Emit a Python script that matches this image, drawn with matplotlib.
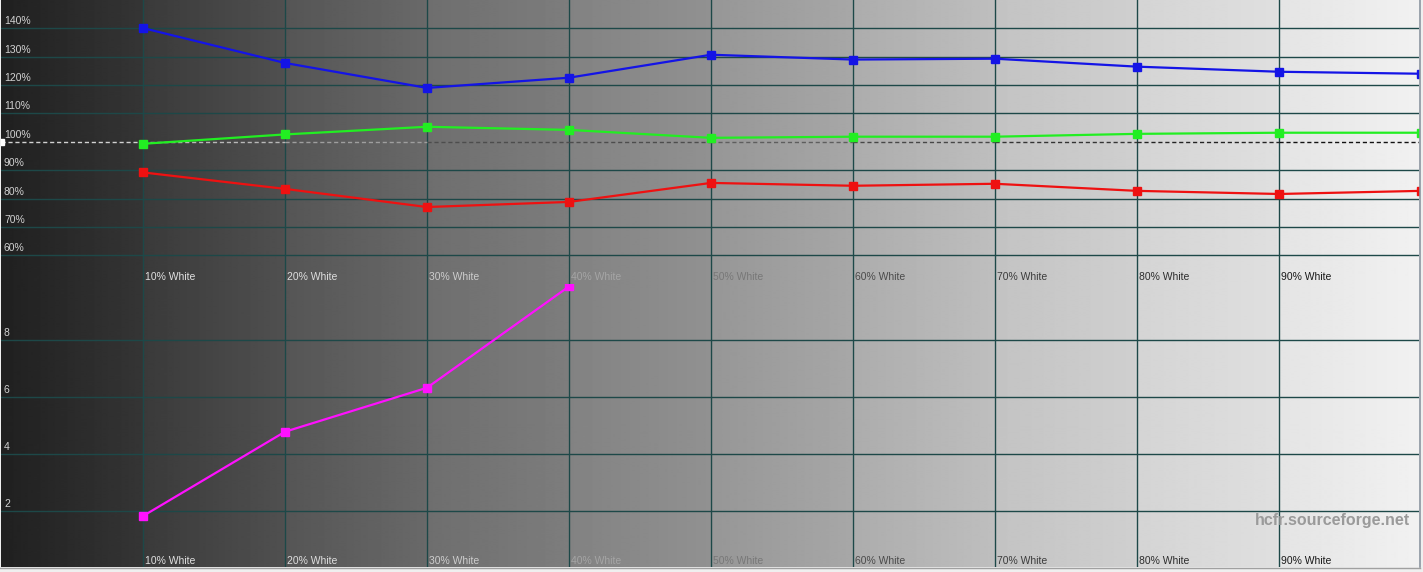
import numpy as np
import matplotlib.pyplot as plt
from matplotlib.lines import Line2D

# Dane (HCFR - poziomy RGB i deltaE skali szarości)
levels = [10, 20, 30, 40, 50, 60, 70, 80, 90, 100]
tick_labels = ["10% White", "20% White", "30% White", "40% White", "50% White",
               "60% White", "70% White", "80% White", "90% White"]
red = [89.2, 83.4, 77.0, 78.8, 85.5, 84.5, 85.2, 82.7, 81.6, 82.7]
green = [99.3, 102.6, 105.3, 104.2, 101.4, 101.8, 101.8, 102.8, 103.2, 103.2]
blue = [140.1, 127.8, 119.0, 122.6, 130.7, 129.0, 129.3, 126.5, 124.7, 124.0]
de_levels = [10, 20, 30, 40]
delta_e = [1.81, 4.78, 6.33, 9.9]
pct_ticks = [60, 70, 80, 90, 100, 110, 120, 130, 140]
de_ticks = [2, 4, 6, 8]

W, H = 1423, 572
fig = plt.figure(figsize=(W / 100, H / 100), dpi=100, facecolor='#efefef')
plt.rcParams['font.family'] = ['Liberation Sans', 'DejaVu Sans']

# tło - gradient szarości w pasach co 10%
g_anch = [32, 58, 85, 110, 130, 150, 172, 195, 212, 228, 246]
xs = np.linspace(0, 100, 1420)
gray = np.zeros_like(xs)
for i in range(10):
    m = (xs >= i * 10) & (xs <= (i + 1) * 10)
    f = (xs[m] - i * 10) / 10
    gray[m] = g_anch[i] + (g_anch[i + 1] - g_anch[i] - 5) * f
img = np.tile(gray / 255.0, (2, 1))

left, right = 1 / W, 1419 / W
y_mid = 283.6
y_bot = 567.4
bg = fig.add_axes([left, 1 - y_bot / H, right - left, y_bot / H])
bg.imshow(img, cmap='gray', vmin=0, vmax=1, aspect='auto', extent=[0, 100, 0, 1])
bg.axis('off')

ax1 = fig.add_axes([left, 1 - y_mid / H, right - left, y_mid / H])
ax2 = fig.add_axes([left, 1 - y_bot / H, right - left, (y_bot - y_mid) / H])

grid_c = '#1d4848'
label_grays = [225, 222, 205, 165, 120, 75, 60, 45, 25]

for ax in (ax1, ax2):
    ax.set_facecolor('none')
    ax.set_xlim(0, 99.86)
    for s in ax.spines.values():
        s.set_visible(False)
    ax.set_xticks([])
    ax.set_yticks([])
    for x in levels[:-1]:
        ax.axvline(x, color=grid_c, lw=1, zorder=1)

ax1.set_ylim(50, 150)
ax2.set_ylim(0, 10)

for v in pct_ticks:
    if v != 100:
        ax1.axhline(v, color=grid_c, lw=1, zorder=1)
    ax1.annotate(f"{v}%", xy=(0, v), xycoords=('axes fraction', 'data'),
                 xytext=(3, 2), textcoords='offset pixels', fontsize=7.5,
                 color='#d2d2d2', va='bottom', ha='left')
for v in de_ticks:
    ax2.axhline(v, color=grid_c, lw=1, zorder=1)
    ax2.annotate(str(v), xy=(0, v), xycoords=('axes fraction', 'data'),
                 xytext=(3, 2), textcoords='offset pixels', fontsize=7.5,
                 color='#d2d2d2', va='bottom', ha='left')

# przerywana linia 100% - kolor odwrotny do tła
for i in range(10):
    gm = (g_anch[i] + g_anch[i + 1]) / 2
    c = str(round(1 - gm / 255, 3)) if gm < 120 or gm > 140 else '0.3'
    ax1.plot([i * 10, i * 10 + 10], [100, 100], color=c, lw=1,
             ls=(0, (3, 2)), zorder=2)
ax1.plot([0], [100], marker='s', ms=4, color='white', clip_on=True, zorder=3)

# etykiety osi X
for x, lab, g in zip(levels, tick_labels, label_grays):
    c = str(g / 255)
    ax1.annotate(lab, xy=(x, 52.3), xycoords='data', xytext=(2, 0),
                 textcoords='offset pixels', fontsize=7.5, color=c,
                 va='center', ha='left')
    ax2.annotate(lab, xy=(x, 0.23), xycoords='data', xytext=(2, 0),
                 textcoords='offset pixels', fontsize=7.5, color=c,
                 va='center', ha='left')

kw = dict(marker='s', ms=5.5, lw=1.6, zorder=4)
ax1.plot(levels, blue, color='#1414e6', **kw)
ax1.plot(levels, green, color='#22ee22', **kw)
ax1.plot(levels, red, color='#ee1111', **kw)
ax2.plot(de_levels, delta_e, color='#ff10ff', **kw)

fig.text(1410 / W, 1 - 520 / H, "hcfr.sourceforge.net", fontsize=11.5,
         fontweight='bold', color='#9a9a9a', ha='right', va='center')

# ramka okna po prawej i na dole
fig.add_artist(Line2D([1419.5 / W] * 2, [1 - y_bot / H, 1], color='#8c96a0',
                      lw=1.2, transform=fig.transFigure))
fig.add_artist(Line2D([0, 1419.5 / W], [1 - 568 / H] * 2, color='#a0a0a0',
                      lw=1, transform=fig.transFigure))

fig.savefig('out.png', dpi=100, facecolor=fig.get_facecolor())
